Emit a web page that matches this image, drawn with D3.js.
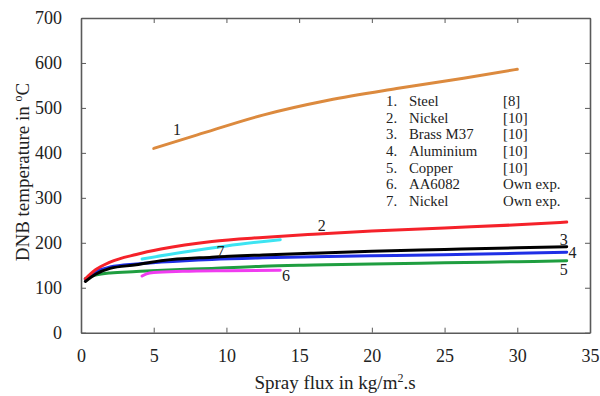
<!DOCTYPE html>
<html><head><meta charset="utf-8">
<script src="https://cdn.jsdelivr.net/npm/d3@7"></script>
<style>body{margin:0;background:#fff}svg{display:block}</style>
</head><body><svg id="c" width="600" height="396"></svg>
<script>
const xTicks = [0,5,10,15,20,25,30,35];
const yTicks = [0,100,200,300,400,500,600,700];
const seriesIds = ["1","2","3","4","5","6","7"];
const seriesColors = ["#dc8a3e","#f5222a","#000000","#1f2fe6","#1f9e40","#f03cf0","#3de4f2"];
const steel = [[5,410],[8,440],[12.5,484],[17,517],[21.7,543],[26.3,566],[30,586]];
const nickel = [[0.3,120],[1,140],[2,157],[3.8,174],[5.5,186],[9,203],[12.5,212],[16,219],[20,226],[25,233],[30,240],[33.4,246]];
const brass = [[0.3,114],[1,130],[2,143],[3.8,151],[5.5,160],[9,168],[12.5,173],[16,177],[20,181],[25,185],[30,189],[33.4,191]];
const aluminium = [[0.3,119],[1,135],[2,146],[3.8,153],[5.5,157],[9,163],[12.5,166.5],[16,169],[20,171],[25,173.5],[30,176.5],[33.4,179]];
const copper = [[0.3,120],[1,128],[2,133],[3.8,136],[6,139.5],[9,143],[12.5,148],[16,150.5],[20,153],[25,155.5],[30,158],[33.4,160]];
const aa6082 = [[4.2,126],[4.5,131],[5,134],[7,136.5],[10,138],[13.7,139]];
const nickelOwn = [[4.2,164],[7,179],[10,193],[13.7,207]];
const labelX = [6.6,16.55,33.2,33.8,33.2,14.1,9.6];
const labelY = [451,239.5,208,178,139.5,128,180];
const legendNums = ["1.","2.","3.","4.","5.","6.","7."];
const legendNames = ["Steel","Nickel","Brass M37","Aluminium","Copper","AA6082","Nickel"];
const legendRefs = ["[8]","[10]","[10]","[10]","[10]","Own exp.","Own exp."];

const FONT = "Liberation Serif";
const seriesData = [steel,nickel,brass,aluminium,copper,aa6082,nickelOwn];
const svg = d3.select("#c");
const x = d3.scaleLinear().domain([0,35]).range([81,590]);
const y = d3.scaleLinear().domain([0,700]).range([332.7,18]);
const frame = "#5a5a5a";

const line = d3.line().x(d=>x(d[0])).y(d=>y(d[1])).curve(d3.curveMonotoneX);
const order = [0,4,3,1,2,6,5];
order.forEach(i=>{
  svg.append("path").attr("d",line(seriesData[i])).attr("fill","none")
    .attr("stroke",seriesColors[i]).attr("stroke-width",3).attr("stroke-linecap","round");
});

const gx = svg.append("g").attr("transform",`translate(0,${y(0)})`)
  .call(d3.axisBottom(x).tickValues(xTicks).tickSizeInner(-5).tickSizeOuter(0).tickPadding(17));
const gx2 = svg.append("g").attr("transform",`translate(0,${y(700)})`)
  .call(d3.axisTop(x).tickValues(xTicks).tickSizeInner(-5).tickSizeOuter(0).tickFormat(""));
const gy = svg.append("g").attr("transform",`translate(${x(0)},0)`)
  .call(d3.axisLeft(y).tickValues(yTicks).tickSizeInner(-5).tickSizeOuter(0).tickPadding(19));
const gy2 = svg.append("g").attr("transform",`translate(${x(35)},0)`)
  .call(d3.axisRight(y).tickValues(yTicks).tickSizeInner(-5).tickSizeOuter(0).tickFormat(""));
[gx,gx2,gy,gy2].forEach(g=>{
  g.attr("font-family",FONT).attr("font-size",18);
  g.select(".domain").attr("stroke",frame).attr("stroke-width",1.6);
  g.selectAll(".tick line").attr("stroke",frame).attr("stroke-width",1);
  g.selectAll("text").attr("fill","#222").attr("font-family",FONT);
});

const txt = (sel)=>sel.attr("font-family",FONT).attr("fill","#222");

seriesIds.forEach((id,i)=>{
  txt(svg.append("text")).attr("x",x(labelX[i])).attr("y",y(labelY[i]))
    .attr("text-anchor","middle").attr("dominant-baseline","central")
    .attr("font-size",16).text(id);
});

const lg = svg.append("g");
legendNames.forEach((n,i)=>{
  const yy = 101 + i*16.65;
  txt(lg.append("text")).attr("x",386).attr("y",yy).attr("dominant-baseline","central").attr("font-size",14.8).text(legendNums[i]);
  txt(lg.append("text")).attr("x",409).attr("y",yy).attr("dominant-baseline","central").attr("font-size",14.8).text(n);
  txt(lg.append("text")).attr("x",503).attr("y",yy).attr("dominant-baseline","central").attr("font-size",14.8).text(legendRefs[i]);
});

const xt = txt(svg.append("text")).attr("x",335).attr("y",389).attr("text-anchor","middle").attr("font-size",19);
xt.append("tspan").text("Spray flux in kg/m");
xt.append("tspan").attr("dy",-7).attr("font-size",12).text("2");
xt.append("tspan").attr("dy",7).text(".s");

const yt = txt(svg.append("text")).attr("transform","translate(29,172) rotate(-90)").attr("text-anchor","middle").attr("font-size",19);
yt.append("tspan").text("DNB temperature in ");
yt.append("tspan").attr("dy",-7).attr("font-size",12).text("o");
yt.append("tspan").attr("dy",7).text("C");
</script></body></html>
